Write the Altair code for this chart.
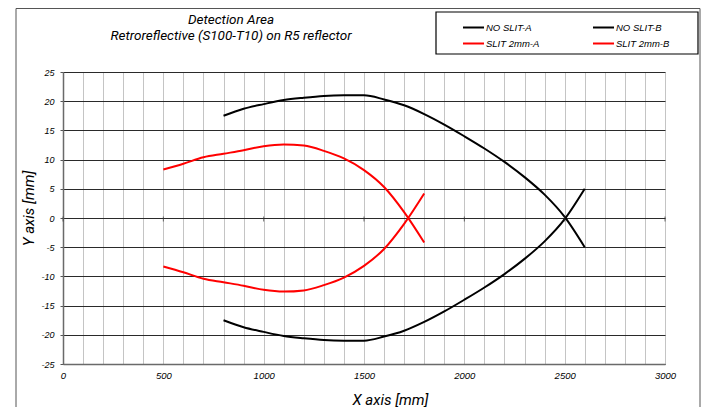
import altair as alt
import pandas as pd

# ---- data ----
black_x = [800, 900, 1000, 1100, 1200, 1300, 1400, 1500, 1600, 1700,
           1800, 1900, 2000, 2100, 2200, 2300, 2400, 2500, 2600]
no_slit_a = [17.5, 18.7, 19.5, 20.2, 20.6, 20.9, 21.0, 21.0, 20.3, 19.3,
             17.8, 16.0, 14.0, 11.9, 9.6, 7.0, 4.0, 0.2, -5.0]
no_slit_b = [-17.5, -18.7, -19.5, -20.2, -20.6, -20.9, -21.0, -21.0, -20.3, -19.3,
             -17.8, -16.0, -14.0, -11.9, -9.6, -7.0, -4.0, -0.2, 5.0]

red_x = [500, 600, 700, 800, 900, 1000, 1100, 1200, 1300, 1400, 1500, 1600, 1700, 1800]
slit_a = [8.3, 9.3, 10.4, 11.0, 11.6, 12.3, 12.6, 12.4, 11.5, 10.2, 8.2, 5.3, 1.0, -4.2]
slit_b = [-8.3, -9.3, -10.4, -11.0, -11.6, -12.3, -12.6, -12.4, -11.5, -10.2, -8.2, -5.3, -1.0, 4.2]

# legend is laid out column by column: A entries in the first column, B entries in the second
series_names = ["NO SLIT-A", "SLIT 2mm-A", "NO SLIT-B", "SLIT 2mm-B"]
series_colors = ["#000000", "#ff0000", "#000000", "#ff0000"]

x_label_values = [0, 500, 1000, 1500, 2000, 2500, 3000]
x_grid_values = list(range(0, 3001, 100))
y_tick_values = [-25, -20, -15, -10, -5, 0, 5, 10, 15, 20, 25]

title_line1 = "Detection Area"
title_line2 = "Retroreflective (S100-T10) on R5 reflector"

rows = []
for name, xs, ys in [("NO SLIT-A", black_x, no_slit_a), ("NO SLIT-B", black_x, no_slit_b),
                     ("SLIT 2mm-A", red_x, slit_a), ("SLIT 2mm-B", red_x, slit_b)]:
    for xv, yv in zip(xs, ys):
        rows.append({"x": xv, "y": yv, "series": name})
df = pd.DataFrame(rows)

tick_df = pd.DataFrame({"x": x_label_values, "y": [0] * len(x_label_values)})
one = pd.DataFrame({"k": [0]})

LABEL_FONT = "Liberation Sans"
TITLE_FONT = "Roboto"

xscale = alt.Scale(domain=[0, 3000], nice=False, zero=False)
yscale = alt.Scale(domain=[-25, 25], nice=False, zero=False)

x_axis = alt.Axis(
    values=x_grid_values,
    labelExpr="datum.value % 500 === 0 ? '' + datum.value : ''",
    labelOverlap=False, labelFlush=False,
    grid=True, gridColor="#c4c4c4", gridWidth=1,
    ticks=False, domainColor="#6a6a6a", domainWidth=1.5,
    labelFont=LABEL_FONT, labelFontStyle="italic", labelFontSize=9.5,
    labelColor="#000000", labelPadding=6,
    title="X axis [mm]", titleFont=TITLE_FONT, titleFontStyle="italic",
    titleFontWeight="normal", titleFontSize=15, titleColor="#000000",
    titleX=327, titleY=35, titleAlign="center", titleBaseline="middle")

y_axis = alt.Axis(
    values=y_tick_values, labelExpr="'' + datum.value",
    labelOverlap=False, labelFlush=False,
    grid=True, gridColor="#2a2a2a", gridWidth=1,
    ticks=True, tickSize=3, tickColor="#555555",
    domainColor="#6a6a6a", domainWidth=1.5,
    labelFont=LABEL_FONT, labelFontStyle="italic", labelFontSize=9,
    labelColor="#000000", labelPadding=6,
    title="Y axis [mm]", titleFont=TITLE_FONT, titleFontStyle="italic",
    titleFontWeight="normal", titleFontSize=15, titleColor="#000000",
    titleAngle=270, titleX=-35, titleY=136, titleAlign="center", titleBaseline="middle")

x_enc = alt.X("x:Q", scale=xscale, axis=x_axis)
y_enc = alt.Y("y:Q", scale=yscale, axis=y_axis)

frame = alt.Chart(one).mark_rect(fill="transparent", stroke="#555555", strokeWidth=1).encode(
    x=alt.value(-47), x2=alt.value(637), y=alt.value(-63.5), y2=alt.value(345))

legend_box = alt.Chart(one).mark_rect(fill="white", stroke="#000000", strokeWidth=1.2).encode(
    x=alt.value(373), x2=alt.value(635), y=alt.value(-60), y2=alt.value(-18))

title_a = alt.Chart(one).mark_text(
    font=TITLE_FONT, fontStyle="italic", fontSize=13.5,
    align="center", baseline="alphabetic", color="#000000").encode(
    x=alt.value(168), y=alt.value(-48.5), text=alt.value(title_line1))

title_b = alt.Chart(one).mark_text(
    font=TITLE_FONT, fontStyle="italic", fontSize=13.5,
    align="center", baseline="alphabetic", color="#000000").encode(
    x=alt.value(168), y=alt.value(-32.5), text=alt.value(title_line2))

lines = alt.Chart(df).mark_line(strokeWidth=2, interpolate="monotone").encode(
    x=x_enc, y=y_enc,
    color=alt.Color("series:N", scale=alt.Scale(domain=series_names, range=series_colors),
                    legend=alt.Legend(title=None, orient="none", legendX=399, legendY=-56,
                                      columns=2, symbolType="stroke", symbolSize=441,
                                      symbolStrokeWidth=2, labelFont=LABEL_FONT,
                                      labelFontStyle="italic", labelFontSize=9.5,
                                      labelColor="#000000", labelOffset=1,
                                      columnPadding=49, rowPadding=0, padding=0)),
    detail="series:N",
)

zero_ticks = alt.Chart(tick_df).mark_tick(orient="vertical", size=5, thickness=1,
                                          color="#333333", yOffset=1).encode(
    x=x_enc, y=y_enc)

chart = alt.layer(frame, legend_box, title_a, title_b, lines, zero_ticks).properties(
    width=602, height=292,
    autosize=alt.AutoSizeParams(type="none"),
    padding={"left": 55, "top": 64, "right": 37, "bottom": 43},
).configure_view(stroke="transparent").configure(background="white")

chart.save("out.html", embed_options={"renderer": "svg", "actions": False})
